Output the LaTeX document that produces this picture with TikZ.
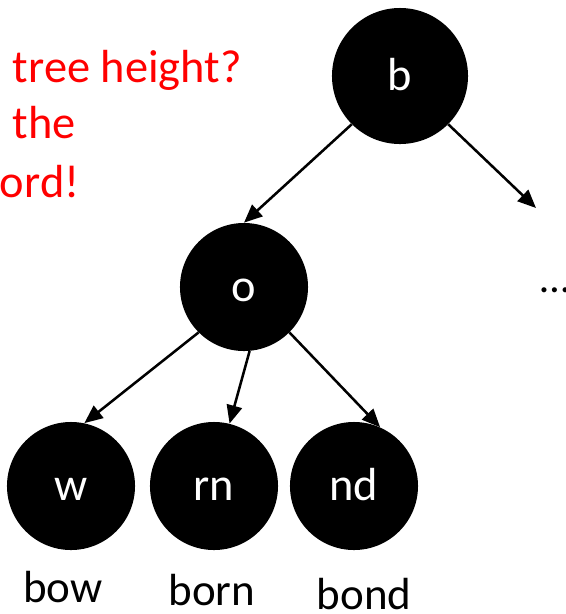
\documentclass[tikz,border=0pt]{standalone}
\usepackage{fontspec}
\setmainfont{Carlito}
\usetikzlibrary{arrows.meta,positioning}

\begin{document}
\begin{tikzpicture}[x=0.025cm, y=-0.025cm,
    link/.style={draw=black, line width=1.8pt, -{Triangle[length=13pt, width=11pt]}}]
      \useasboundingbox (0,0) rectangle (566,614);
      \begin{scope}[every node/.style={anchor=base west, text=red, font=\fontsize{33}{40}\selectfont}]
        \node (q1) at (8,82) {tree height?};
        \node (q2) at (8,138) {the};
        \node (q3) at (-5,197) {ord!};
      \end{scope}
      \begin{scope}[every node/.style={circle, fill=black, text=white, inner sep=0pt,
          minimum size=3.2cm, text height=21pt, text depth=0pt, font=\fontsize{33}{40}\selectfont}]
        \node (b) [minimum size=3.4cm] at (400,76) {b};
        \node (o) at (244,287) {o};
        \node (w) at (71,486) {w};
        \node (rn) at (214,486) {rn};
        \node (nd) at (354,486) {nd};
      \end{scope}
      \coordinate (rest) at (536,208);
      \node (dots) [anchor=base west, inner sep=0pt, font=\fontsize{30}{36}\selectfont] at (540,292) {\dots};
      \begin{scope}[every node/.style={anchor=base, inner sep=0pt, font=\fontsize{32}{38}\selectfont}]
        \node (l1) at (63,602) {bow};
        \node (l2) at (212,605) {born};
        \node (l3) at (364,609) {bond};
      \end{scope}
      \draw[link] (b.225) -- (o.north);
      \draw[link] (b.-45) -- (rest);
      \draw[link] (o.225) -- (w.78);
      \draw[link] (o.-85) -- (rn.76);
      \draw[link] (o.-45) -- (nd.66);
    \end{tikzpicture}
\end{document}
